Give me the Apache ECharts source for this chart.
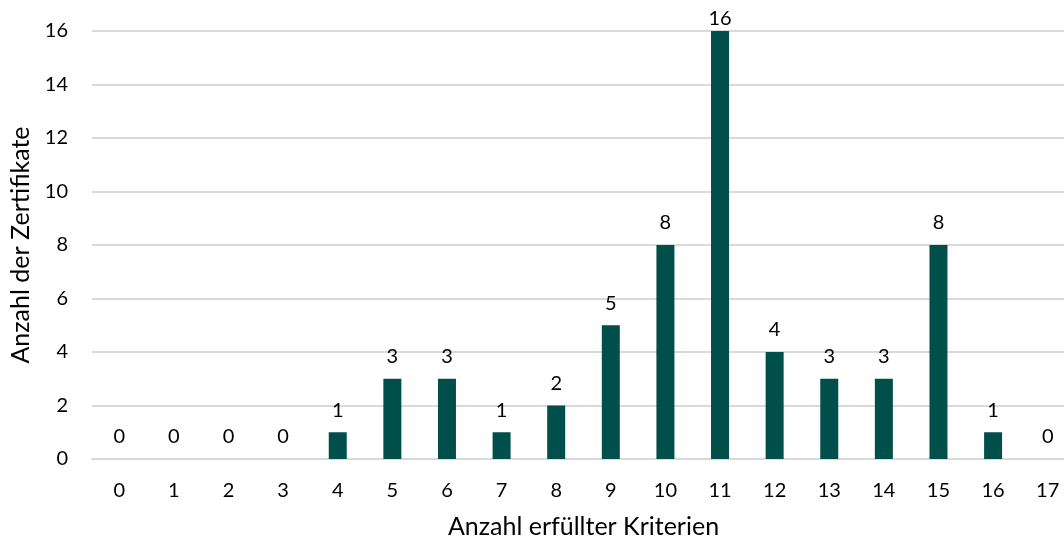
<!DOCTYPE html>
<html>
<head>
<meta charset="utf-8">
<script src="https://cdn.jsdelivr.net/npm/echarts@6/dist/echarts.min.js"></script>
<style>
  html, body { margin: 0; padding: 0; background: #fff; }
  #chart { width: 1064px; height: 538px; }
</style>
</head>
<body>
<div id="chart"></div>
<script>
// Number of fulfilled criteria (x) and how many certificates reached each count (y)
const categories = ['0','1','2','3','4','5','6','7','8','9','10','11','12','13','14','15','16','17'];
const counts = [0, 0, 0, 0, 1, 3, 3, 1, 2, 5, 8, 16, 4, 3, 3, 8, 1, 0];
const yTicks = { min: 0, max: 16, interval: 2 };

const FONT = 'Lato, "Open Sans", sans-serif';
const TEXT = '#000';

// A label on a bar that reaches the top of the axis is tucked down so it stays on the canvas
const barData = counts.map(v => v >= yTicks.max
  ? { value: v, label: { offset: [0, 10] } }
  : v);

const chart = echarts.init(document.getElementById('chart'), null, { renderer: 'canvas' });
chart.setOption({
  animation: false,
  textStyle: { fontFamily: FONT },
  grid: {
    left: 92, right: -11, top: 31, bottom: 79,
    containLabel: false,
    outerBoundsMode: 'none'
  },
  xAxis: {
    type: 'category',
    data: categories,
    name: 'Anzahl erfüllter Kriterien',
    nameLocation: 'middle',
    nameGap: 55,
    nameTextStyle: { fontFamily: FONT, fontSize: 25, color: TEXT },
    axisLine: { show: true, lineStyle: { color: '#d9d9d9', width: 2 } },
    axisTick: { show: false },
    axisLabel: { fontFamily: FONT, fontSize: 20, color: TEXT, margin: 22 }
  },
  yAxis: {
    type: 'value',
    min: yTicks.min,
    max: yTicks.max,
    interval: yTicks.interval,
    name: 'Anzahl der Zertifikate',
    nameLocation: 'middle',
    nameGap: 55,
    nameTextStyle: { fontFamily: FONT, fontSize: 25, color: TEXT },
    axisLine: { show: false },
    axisTick: { show: false },
    axisLabel: { fontFamily: FONT, fontSize: 20, color: TEXT, margin: 24 },
    splitLine: { lineStyle: { color: '#d9d9d9', width: 2 } }
  },
  series: [{
    type: 'bar',
    data: barData,
    barWidth: 18,
    itemStyle: { color: '#004f4b' },
    label: {
      show: true,
      position: 'top',
      distance: 12,
      fontFamily: FONT,
      fontSize: 20,
      color: TEXT
    }
  }]
});
</script>
</body>
</html>
